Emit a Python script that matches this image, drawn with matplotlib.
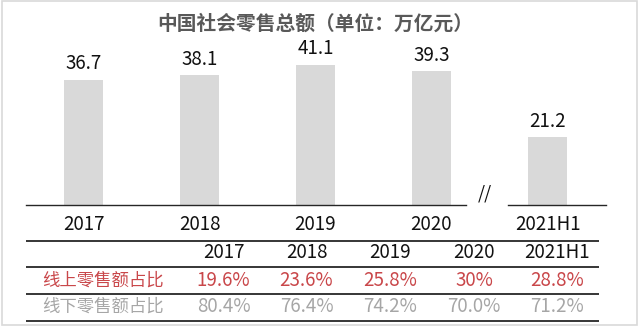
import matplotlib
matplotlib.use("Agg")
import matplotlib.pyplot as plt
from matplotlib.patches import Rectangle

plt.rcParams['font.family'] = ['Noto Sans CJK SC', 'DejaVu Sans']

# data
years = ["2017", "2018", "2019", "2020"]
totals = [36.7, 38.1, 41.1, 39.3]
h1_label = "2021H1"
h1_total = 21.2

table_cols = ["2017", "2018", "2019", "2020", "2021H1"]
online_label = "线上零售额占比"
online_share = ["19.6%", "23.6%", "25.8%", "30%", "28.8%"]
offline_label = "线下零售额占比"
offline_share = ["80.4%", "76.4%", "74.2%", "70.0%", "71.2%"]

title = "中国社会零售总额（单位：万亿元）"

# styles
W, H = 640, 327
bar_color = "#D9D9D9"
line_color = "#262626"
red = "#C9474A"
grey = "#A6A6A6"
num_size = 13.5

fig = plt.figure(figsize=(W / 100, H / 100), dpi=100)

# background layer in pixel units for table, frame, title
bg = fig.add_axes([0, 0, 1, 1])
bg.set_xlim(0, W)
bg.set_ylim(H, 0)
bg.axis("off")
bg.add_patch(Rectangle((1.5, 0.5), 635, 324.2, fill=False, edgecolor="#D9D9D9", lw=1.2))
bg.text(315, 23.5, title, ha="center", va="center", fontsize=14.2, fontweight="bold", color="#595959")


def px_axes(x0, x1, ytop, ybot):
    return fig.add_axes([x0 / W, (H - ybot) / H, (x1 - x0) / W, (ybot - ytop) / H])


def style_axes(ax):
    for s in ["top", "right", "left"]:
        ax.spines[s].set_visible(False)
    ax.spines["bottom"].set_color(line_color)
    ax.spines["bottom"].set_linewidth(1.0)
    ax.set_yticks([])
    ax.tick_params(axis="x", length=0, pad=6.5, labelsize=num_size, labelcolor="#111111")
    ax.patch.set_alpha(0)


# main bars
ax1 = px_axes(26, 466, 50, 204.7)
x1 = list(range(len(years)))
ax1.bar(x1, totals, width=0.336, color=bar_color)
ax1.set_xlim(-0.499, 3.30)
ax1.set_ylim(0, 45.5)
ax1.set_xticks(x1, years)
style_axes(ax1)
for x, v in zip(x1, totals):
    ax1.annotate(f"{v}", (x, v), xytext=(0, 4), textcoords="offset points",
                 ha="center", va="bottom", fontsize=num_size, color="#111111")

# 2021H1 after the break
ax2 = px_axes(508, 606, 50, 204.7)
ax2.bar([0], [h1_total], width=0.336, color=bar_color)
ax2.set_xlim(-0.343, 0.502)
ax2.set_ylim(0, 48.7)
ax2.set_xticks([0], [h1_label])
style_axes(ax2)
ax2.annotate(f"{h1_total}", (0, h1_total), xytext=(0, 4), textcoords="offset points",
             ha="center", va="bottom", fontsize=num_size, color="#111111")

bg.text(484.5, 194, "//", ha="center", va="center", fontsize=13, color="#111111", style="italic")

# table under the chart
col_x = [223.5, 306.5, 390, 474, 557]
rule_y = [240.7, 267.3, 294, 320.7]
row_y = [253, 280.5, 307]
label_x = 102.5
for y in rule_y:
    bg.plot([26, 599], [y, y], color=line_color, lw=1.3, solid_capstyle="butt")
for x, c in zip(col_x, table_cols):
    bg.text(x, row_y[0], c, ha="center", va="center", fontsize=num_size, color="#111111")
bg.text(label_x, row_y[1], online_label, ha="center", va="center", fontsize=12.5, color=red)
bg.text(label_x, row_y[2], offline_label, ha="center", va="center", fontsize=12.5, color=grey)
for x, a, b in zip(col_x, online_share, offline_share):
    bg.text(x, row_y[1], a, ha="center", va="center", fontsize=num_size, color=red)
    bg.text(x, row_y[2], b, ha="center", va="center", fontsize=num_size, color=grey)

fig.savefig("out.png", dpi=100)
